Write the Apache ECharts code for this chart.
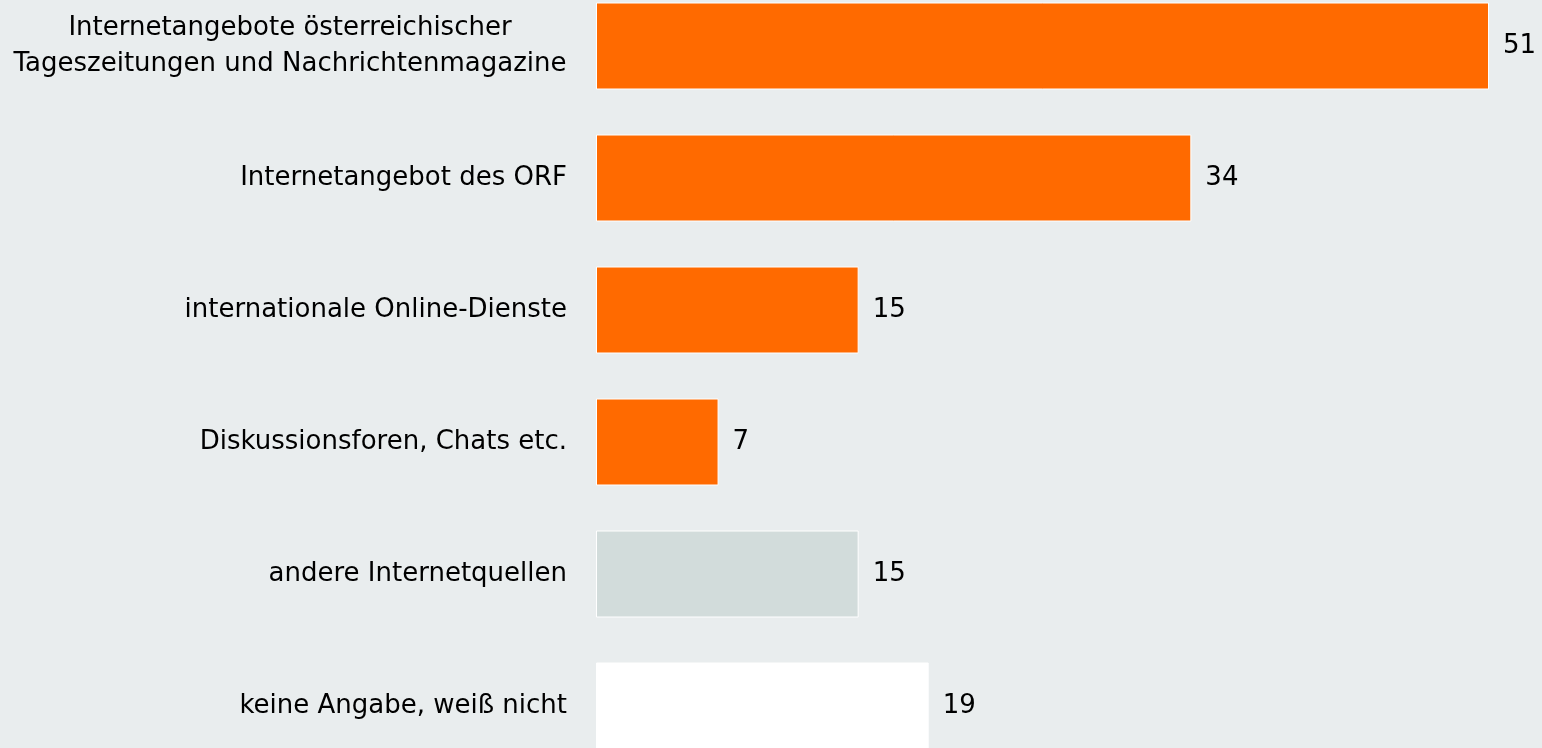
<!DOCTYPE html>
<html>
<head>
<meta charset="utf-8">
<script src="https://cdn.jsdelivr.net/npm/echarts@6/dist/echarts.min.js"></script>
<style>
  html, body { margin: 0; padding: 0; background: #e9edee; overflow: hidden; }
  #chart { width: 1542px; height: 792px; margin-top: -20px; }
</style>
</head>
<body>
<div id="chart"></div>
<script>
var categories = [
  "Internetangebote österreichischer\nTageszeitungen und Nachrichtenmagazine",
  "Internetangebot des ORF",
  "internationale Online-Dienste",
  "Diskussionsforen, Chats etc.",
  "andere Internetquellen",
  "keine Angabe, weiß nicht"
];
var values = [51, 34, 15, 7, 15, 19];
var barColors = ["#ff6a00", "#ff6a00", "#ff6a00", "#ff6a00", "#d2dcdb", "#ffffff"];

var myChart = echarts.init(document.getElementById("chart"));
var option = {
  backgroundColor: "#e9edee",
  animation: false,
  textStyle: { fontFamily: "DejaVu Sans" },
  grid: { left: 596, right: 53, top: 0, bottom: 0, containLabel: false },
  xAxis: { type: "value", min: 0, max: 51, show: false },
  yAxis: {
    type: "category",
    inverse: true,
    data: categories,
    axisLine: { show: false },
    axisTick: { show: false },
    axisLabel: {
      margin: 29,
      color: "#000",
      fontSize: 26,
      lineHeight: 36,
      align: "right",
      formatter: function (v) {
        // multi-line labels: lines centred on each other
        if (v.indexOf("\n") < 0) return v;
        return v.split("\n").map(function (s) { return "{c|" + s + "}"; }).join("\n");
      },
      rich: {
        c: { width: 554, align: "center", fontSize: 26, lineHeight: 36, color: "#000" }
      }
    }
  },
  series: [
    {
      type: "bar",
      barWidth: 87,
      data: values.map(function (v, i) {
        return { value: v, itemStyle: { color: barColors[i] } };
      }),
      itemStyle: { borderColor: "#ffffff", borderWidth: 1 },
      label: {
        show: true,
        position: "right",
        distance: 14,
        color: "#000",
        fontSize: 26
      }
    }
  ]
};
myChart.setOption(option);
</script>
</body>
</html>
